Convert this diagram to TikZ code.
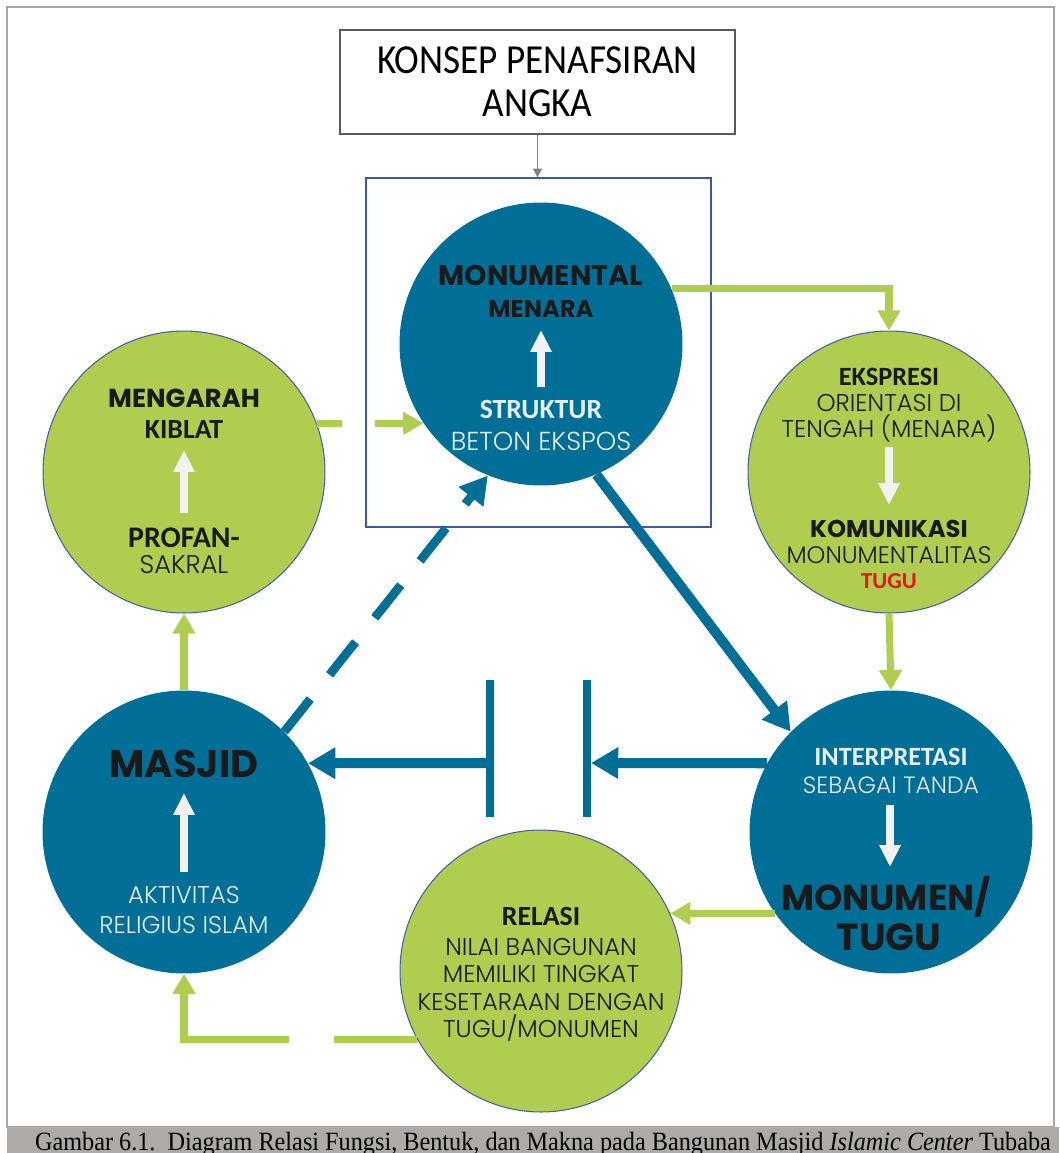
\documentclass[tikz,border=0pt]{standalone}
\usepackage{fontspec}
\setmainfont{Liberation Serif}
\newfontfamily\gothic{Poppins}
\newfontfamily\gothlight{Poppins Light}
\newfontfamily\calib{Carlito}
\usetikzlibrary{calc}
\usetikzlibrary{arrows.meta}

\definecolor{tealblue}{HTML}{006F97}
\definecolor{leafgreen}{HTML}{AFCD4F}
\definecolor{rimblue}{HTML}{4063A8}
\definecolor{boxblue}{HTML}{3A5B9E}
\definecolor{boxgray}{HTML}{5A5A5A}
\definecolor{arrowgray}{HTML}{808080}
\definecolor{framegray}{HTML}{A6A6A6}
\definecolor{capgray}{HTML}{ADAAA7}
\definecolor{tipwhite}{HTML}{F2F2F2}
\definecolor{paleblue}{HTML}{E4EEF3}
\definecolor{inkblack}{HTML}{1A1A1A}
\definecolor{tugured}{HTML}{E8141B}

\tikzset{
  greenball/.style={circle, fill=leafgreen, draw=rimblue, line width=0.6pt, minimum size=5.64cm, inner sep=0pt},
  blueball/.style={circle, fill=tealblue, minimum size=5.66cm, inner sep=0pt},
  gbold/.style={anchor=base, inner sep=0pt, text=inkblack, font=\gothic\bfseries\fontsize{#1}{#1}\selectfont},
  gthin/.style={anchor=base, inner sep=0pt, text=inkblack, font=\gothlight\fontsize{#1}{#1}\selectfont},
  cbold/.style={anchor=base, inner sep=0pt, text=inkblack, font=\calib\bfseries\fontsize{#1}{#1}\selectfont},
  whitetip/.style={draw=tipwhite, line width=4.5pt, -{Triangle[length=12.5pt,width=11.5pt]}},
  greentip/.style={draw=leafgreen, line width=4pt, -{Triangle[length=11.5pt,width=12.5pt]}},
  bluetip/.style={draw=tealblue, line width=5.7pt, -{Triangle[length=15.5pt,width=17pt]}},
  bluebar/.style={draw=tealblue, line width=4.5pt},
  graytip/.style={draw=arrowgray, line width=0.9pt, -{Triangle[length=5pt,width=5pt]}}
}

\begin{document}
\begin{tikzpicture}[x=0.02cm, y=-0.02cm]
\useasboundingbox (0,0) rectangle (1059,1153);

% frame and caption
\draw[framegray, line width=0.9pt] (7,7) rectangle (1054,1127);
\fill[capgray] (7,1127) rectangle (1059,1153);
\node[anchor=base, inner sep=0pt, font=\fontsize{15pt}{15pt}\selectfont] (caption) at (543,1150) {\scalebox{0.92}[1]{Gambar 6.1.\ \ Diagram Relasi Fungsi, Bentuk, dan Makna pada Bangunan Masjid \textit{Islamic Center} Tubaba}};

% concept box
\node[draw=boxgray, line width=0.8pt, minimum width=7.9cm, minimum height=2.08cm, align=center, font=\calib\fontsize{23.5pt}{24.4pt}\selectfont] (konsep) at (537.5,82) {\scalebox{0.9}[1]{KONSEP PENAFSIRAN}\\\scalebox{0.9}[1]{ANGKA}};
\node[draw=boxblue, line width=0.7pt, minimum width=6.9cm, minimum height=6.98cm] (sq) at (538.5,352.5) {};
\draw[graytip] (konsep.south) -- (konsep.south |- sq.north);

% circles
\node[blueball] (mon) at (541,344) {};
\node[greenball] (kiblat) at (184,472) {};
\node[greenball] (ekspresi) at (889,472) {};
\node[blueball] (masjid) at (184,832) {};
\node[blueball] (interp) at (891,832) {};
\node[greenball] (relasi) at (541,971) {};

% monumental
\node[gbold=16.2pt] (monA) at (541,285) {MONUMENTAL};
\node[gbold=13.8pt] (monB) at (541,317) {MENARA};
\node[cbold=15.8pt, text=paleblue] (monC) at (541,418) {STRUKTUR};
\node[gthin=14.8pt, text=paleblue] (monD) at (541,450) {BETON EKSPOS};
\coordinate (mU1) at (541,387);
\coordinate (mU2) at (541,330);
\draw[whitetip] (mU1) -- (mU2);

% kiblat
\node[gbold=14.8pt] (kibA) at (184,407) {MENGARAH};
\node[cbold=15.8pt] (kibB) at (184,438) {KIBLAT};
\node[cbold=17pt] (kibC) at (184,547) {PROFAN-};
\node[gthin=14.6pt] (kibD) at (184,573) {SAKRAL};
\coordinate (kU1) at (184,513);
\coordinate (kU2) at (184,450);
\draw[whitetip] (kU1) -- (kU2);

% ekspresi
\node[cbold=15pt] (ekA) at (889,385) {EKSPRESI};
\node[gthin=13.8pt] (ekB) at (889,411) {ORIENTASI DI};
\node[gthin=13.8pt] (ekC) at (889,437) {TENGAH (MENARA)};
\node[gbold=13.8pt] (ekD) at (889,537) {KOMUNIKASI};
\node[gthin=13.6pt] (ekE) at (889,563) {MONUMENTALITAS};
\node[cbold=13pt, text=tugured] (ekF) at (889,588) {TUGU};
\coordinate (eD1) at (889,447);
\coordinate (eD2) at (889,505);
\draw[whitetip] (eD1) -- (eD2);

% masjid
\node[gbold=21.9pt] (masA) at (184,777) {MASJID};
\node[gthin=13.8pt, text=paleblue] (masB) at (184,903) {AKTIVITAS};
\node[gthin=13.8pt, text=paleblue] (masC) at (184,933) {RELIGIUS ISLAM};
\coordinate (sU1) at (184,872);
\coordinate (sU2) at (184,793);
\draw[whitetip] (sU1) -- (sU2);

% interpretasi
\node[cbold=15pt, text=paleblue] (intA) at (891,765) {INTERPRETASI};
\node[gthin=13.4pt, text=paleblue] (intB) at (891,793) {SEBAGAI TANDA};
\node[gbold=20.5pt] (intC) at (886,910) {MONUMEN/};
\node[gbold=21.5pt] (intD) at (889,950) {TUGU};
\coordinate (iD1) at (890,805);
\coordinate (iD2) at (890,867);
\draw[whitetip] (iD1) -- (iD2);

% relasi
\node[cbold=15.8pt] (relA) at (541,925) {RELASI};
\node[gthin=13.8pt] (relB) at (541,955) {NILAI BANGUNAN};
\node[gthin=13.8pt] (relC) at (541,982) {MEMILIKI TINGKAT};
\node[gthin=13.8pt] (relD) at (541,1010) {KESETARAAN DENGAN};
\node[gthin=13.8pt] (relE) at (541,1037) {TUGU/MONUMEN};

% green links
\draw[greentip] (mon.23.5) -| (ekspresi.north);
\draw[greentip, dash pattern=on 14.2pt off 18.7pt on 200pt] (kiblat.20) -- (mon.214);
\draw[greentip] (ekspresi.south) -- (interp.north);
\draw[greentip] (masjid.north) -- (kiblat.south);
\draw[greentip] (interp.215) -- (relasi.24);
\draw[greentip, dash pattern=on 47.6pt off 25.5pt on 400pt] (relasi.209) -| (masjid.south);

% blue links
\coordinate (b1top) at (490,680);
\coordinate (b1bot) at (490,817);
\coordinate (b1mid) at (490,763);
\coordinate (b2top) at (587,680);
\coordinate (b2bot) at (587,817);
\coordinate (b2mid) at (591,763);
\draw[bluebar] (b1top) -- (b1bot);
\draw[bluebar] (b2top) -- (b2bot);
\draw[bluetip] (b1mid) -- (masjid.29);
\draw[bluetip] (interp.151) -- (b2mid);
\draw[bluetip] (mon.-67) -- (interp.135);
\draw[bluetip, line width=5pt, dash pattern=on 23.8pt off 17.6pt] (masjid.45) -- (mon.-112);

\end{tikzpicture}
\end{document}
